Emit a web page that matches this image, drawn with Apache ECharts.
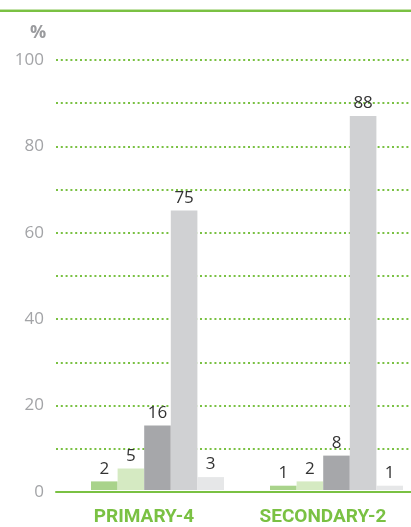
<!DOCTYPE html>
<html><head><meta charset="utf-8">
<script src="https://cdn.jsdelivr.net/npm/echarts@6/dist/echarts.min.js"></script>
<style>html,body{margin:0;padding:0;background:#fff}#c{width:411px;height:527px}</style>
</head><body><div id="c"></div>
<script>
const categories = ['PRIMARY-4', 'SECONDARY-2'];
const series1 = [2, 1];
const series2 = [5, 2];
const series3 = [15, 8];
const series4 = [65, 87];
const series5 = [3, 1];
const labels1 = ['2', '1'];
const labels2 = ['5', '2'];
const labels3 = ['16', '8'];
const labels4 = ['75', '88'];
const labels5 = ['3', '1'];
const yTicks = [0, 20, 40, 60, 80, 100];
const colors = ['#a9d38b', '#d5eac2', '#a6a7aa', '#d0d1d3', '#e6e7e8'];

const GREEN = '#7ac143';
const FONT = '"Open Sans", "DejaVu Sans", sans-serif';
const chart = echarts.init(document.getElementById('c'), null, {renderer: 'canvas'});
const vals = [series1, series2, series3, series4, series5];
const labs = [labels1, labels2, labels3, labels4, labels5];

const series = vals.map((v, i) => ({
  type: 'bar',
  xAxisIndex: 0, yAxisIndex: 0,
  data: v,
  barWidth: 26.6,
  barGap: '0%',
  itemStyle: {color: colors[i]},
  label: {
    show: true, position: 'top', distance: 4,
    color: '#333', fontFamily: FONT, fontSize: 17,
    formatter: p => labs[i][p.dataIndex]
  }
}));

chart.setOption({
  animation: false,
  title: {text: '%', left: 25, top: 19, textStyle: {color: '#9a9b9e', fontSize: 18, fontWeight: 'bold', fontFamily: FONT}},
  graphic: [
    {type: 'rect', shape: {x: 0, y: 9, width: 411, height: 1}, style: {fill: '#c3e2aa'}},
    {type: 'rect', shape: {x: 0, y: 10, width: 411, height: 2}, style: {fill: GREEN}}
  ],
  grid: [
    {left: 157.5, right: 74.5, top: 60, bottom: 35},
    {left: 56, right: 0, top: 60, bottom: 35}
  ],
  xAxis: [
    {type: 'category', gridIndex: 0, data: categories, boundaryGap: false,
     axisLine: {show: false}, axisTick: {show: false},
     axisLabel: {margin: 18,
       formatter: v => '{a|' + v + '}',
       rich: {a: {color: GREEN, fontWeight: 'bold', fontSize: 19, padding: [0, 27, 0, 0],
         fontFamily: '"Roboto", sans-serif'}}}},
    {type: 'value', gridIndex: 1, min: 0, max: 1,
     axisLine: {show: true, onZero: false, lineStyle: {color: GREEN, width: 2}},
     axisTick: {show: false}, axisLabel: {show: false}, splitLine: {show: false}}
  ],
  yAxis: [
    {type: 'value', gridIndex: 0, min: 0, max: 100, interval: 10, show: false},
    {type: 'value', gridIndex: 1, min: 0, max: 100, interval: 10,
     axisLine: {show: false}, axisTick: {show: false},
     axisLabel: {color: '#a3a4a7', fontSize: 17, fontFamily: FONT, margin: 12,
       formatter: v => yTicks.includes(v) ? String(v) : ''},
     splitLine: {show: true, lineStyle: {color: GREEN, width: 2, type: [2, 2.8]}}}
  ],
  series: series.concat([{type: 'line', xAxisIndex: 1, yAxisIndex: 1, data: []}])
});
</script></body></html>
